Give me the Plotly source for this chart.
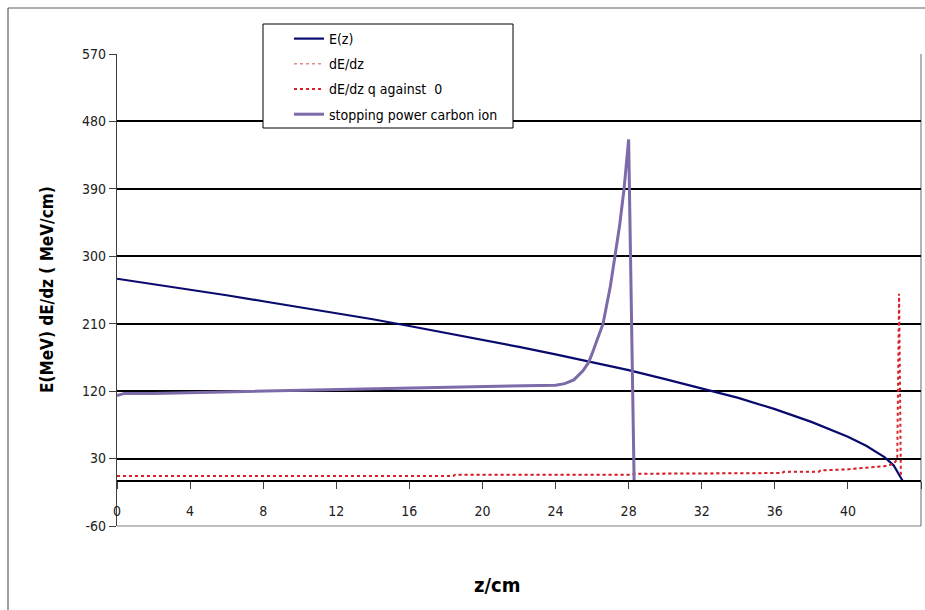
import plotly.graph_objects as go

# ---- data ----
z_E = [0, 2, 4, 6, 8, 10, 12, 14, 16, 18, 20, 22, 24, 26, 28, 30, 32, 34, 36, 38, 40, 41, 42, 42.5, 43]
E_z = [270, 263, 255, 248, 240, 232, 224, 216, 207, 198, 189, 179, 169, 159, 148, 136, 124, 111, 96, 79, 59, 47, 32, 21, 0]

z_dE = [0, 18.4, 18.5, 28.2, 28.3, 33.3, 33.4, 36.4, 36.5, 38.4, 38.5, 40, 41, 42.1, 42.5, 42.7]
dEdz = [6.7, 6.7, 8.4, 8.4, 9.7, 9.7, 10.7, 10.7, 12.4, 12.4, 14.2, 15.6, 17.8, 20, 23, 29]

z_dEq = [0, 18.4, 18.5, 28.2, 28.3, 33.3, 33.4, 36.4, 36.5, 38.4, 38.5, 40, 41, 42.1, 42.5, 42.7, 42.8, 42.9]
dEdz_q = [6.7, 6.7, 8.4, 8.4, 9.7, 9.7, 10.7, 10.7, 12.4, 12.4, 14.2, 15.6, 17.8, 20, 23, 29, 250, 4]

z_sp = [0, 0.4, 2, 4, 8, 12, 16, 20, 22, 24, 24.5, 25, 25.5, 25.8, 26, 26.3, 26.6, 27, 27.25, 27.5, 27.75, 28, 28.3]
sp_carbon = [114, 117, 117, 118, 120, 122, 124, 126, 127, 128, 130, 135, 147, 158, 170, 190, 210, 260, 300, 340, 390, 456, 0]

y_ticks = [-60, 30, 120, 210, 300, 390, 480, 570]
x_ticks = [0, 4, 8, 12, 16, 20, 24, 28, 32, 36, 40, 44]

FONT = "Liberation Sans Narrow, Arial Narrow, DejaVu Sans Condensed, Liberation Sans, sans-serif"

# pixel geometry helpers (plot area 117..921 x 54..526)
L, R, T, B = 117, 921, 54, 526
W, H = 925, 610
def px(x):
    return (x - L) / (R - L)
def py(y):
    return (B - y) / (B - T)

fig = go.Figure()
fig.add_trace(go.Scatter(x=z_E, y=E_z, mode="lines", name="E(z)", legendgroup="a",
                         line=dict(color="#0a0a6e", width=2.2)))
fig.add_trace(go.Scatter(x=z_dE, y=dEdz, mode="lines", name="dE/dz", legendgroup="b",
                         line=dict(color="#e08a8a", width=1.6, dash="dot")))
fig.add_trace(go.Scatter(x=z_dEq, y=dEdz_q, mode="lines", name="dE/dz q against  0", legendgroup="c",
                         line=dict(color="#d8202a", width=2, dash="dot")))
fig.add_trace(go.Scatter(x=z_sp, y=sp_carbon, mode="lines", name="stopping power carbon ion", legendgroup="d",
                         line=dict(color="#7d6aa8", width=3)))

shapes = [
    # legend box
    dict(type="rect", xref="paper", yref="paper", x0=px(263), x1=px(513), y0=py(128), y1=py(24),
         fillcolor="white", line=dict(color="black", width=1), layer="above"),
    # plot area bottom & right border
    dict(type="line", xref="paper", yref="paper", x0=0, x1=1, y0=0, y1=0,
         line=dict(color="#808080", width=1.2), layer="below"),
    dict(type="line", xref="paper", yref="paper", x0=1, x1=1, y0=0, y1=1,
         line=dict(color="#808080", width=1.2), layer="below"),
    # outer chart border (top & left)
    dict(type="line", xref="paper", yref="paper", x0=px(8), x1=px(W + 10), y0=py(8), y1=py(8),
         line=dict(color="#606060", width=1.2)),
    dict(type="line", xref="paper", yref="paper", x0=px(8), x1=px(8), y0=py(8), y1=py(H + 10),
         line=dict(color="#606060", width=1.2)),
]

annotations = [
    dict(text="<b>E(MeV) dE/dz ( MeV/cm)</b>", xref="paper", yref="paper", x=px(47), y=py(290),
         showarrow=False, textangle=-90, font=dict(family=FONT, size=17, color="black"),
         xanchor="center", yanchor="middle"),
    dict(text="<b>z/cm</b>", xref="paper", yref="paper", x=px(497), y=py(585),
         showarrow=False, font=dict(family=FONT, size=20, color="black"),
         xanchor="center", yanchor="middle"),
]

fig.update_layout(
    width=W, height=H,
    margin=dict(l=L, r=W - R, t=T, b=H - B, pad=0),
    paper_bgcolor="white", plot_bgcolor="white",
    showlegend=True,
    legend=dict(x=px(289), y=py(23), xanchor="left", yanchor="top",
                bgcolor="rgba(0,0,0,0)", borderwidth=0,
                font=dict(family=FONT, size=14, color="black"),
                traceorder="grouped", tracegroupgap=4, itemwidth=30),
    shapes=shapes,
    annotations=annotations,
    xaxis=dict(range=[0, 44], tickvals=x_ticks, ticktext=[str(v) for v in x_ticks],
               showgrid=False, zeroline=False,
               showline=True, linecolor="black", linewidth=1.5,
               anchor="free", position=60 / 630,
               ticks="outside", ticklen=7, tickwidth=1.2, tickcolor="#404040",
               ticklabelstandoff=10,
               tickfont=dict(family=FONT, size=14, color="#202020")),
    yaxis=dict(range=[-60, 570], tickvals=y_ticks, ticktext=[str(v) for v in y_ticks],
               showgrid=True, gridcolor="black", gridwidth=1.5, zeroline=False,
               showline=True, linecolor="#404040", linewidth=1.2,
               ticks="outside", ticklen=7, tickwidth=1.2, tickcolor="#404040",
               tickfont=dict(family=FONT, size=14, color="#202020")),
)

fig.write_html("out.html")
